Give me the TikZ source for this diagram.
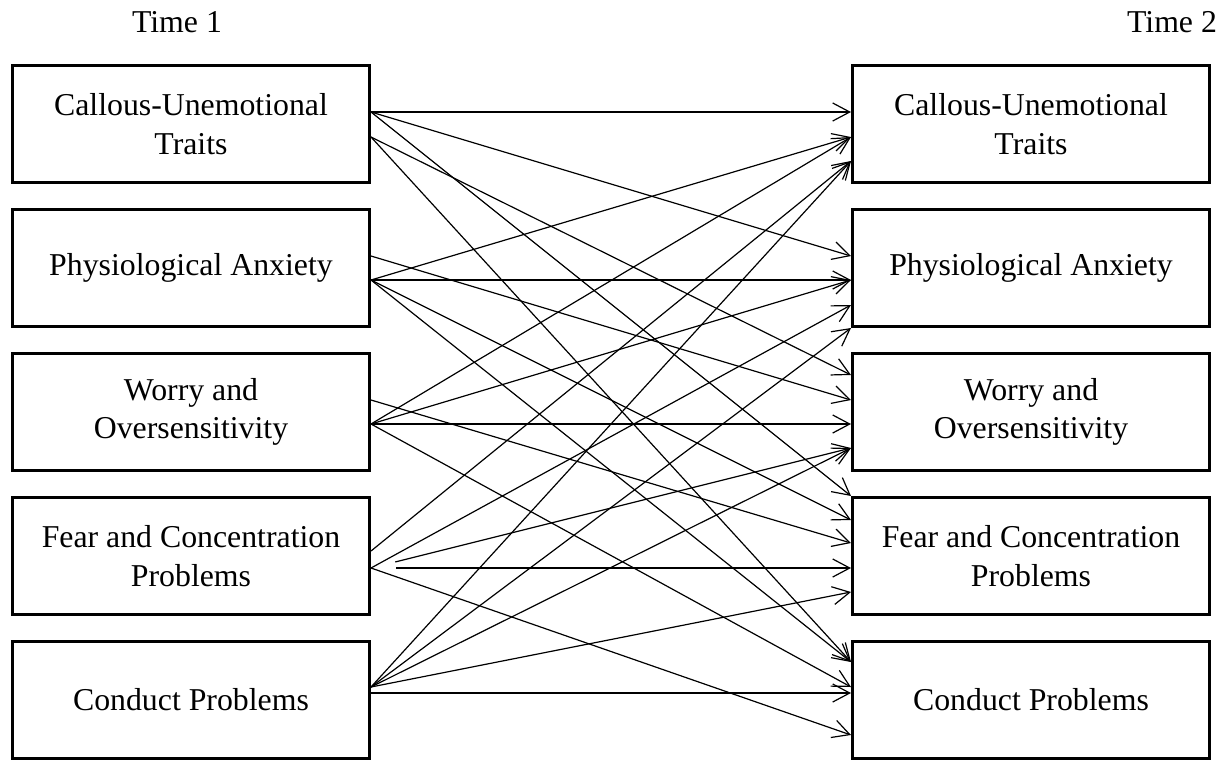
\documentclass[tikz,border=0pt]{standalone}
\usepackage{fontspec}
\setmainfont{Liberation Serif}
\usetikzlibrary{arrows.meta}
\tikzset{
  varblock/.style={draw, rectangle, line width=2.7pt, minimum width=357.3pt, minimum height=117.3pt, inner sep=0pt, align=center, font=\fontsize{31.8}{38.3}\selectfont},
  varwire/.style={line width=1.2pt, -{Straight Barb[length=17pt,width=18pt]}},
  timelabel/.style={anchor=base, font=\fontsize{31.8}{38.3}\selectfont}
}
\begin{document}
\begin{tikzpicture}[x=1pt,y=-1pt]
    \useasboundingbox (0,0) rectangle (1222,761);
    \node[timelabel] (time1) at (177,32) {Time 1};
    \node[timelabel] (time2) at (1172,32) {Time 2};

    \node[varblock] (acu) at (191,124) {Callous-Unemotional\\Traits};
    \node[varblock] (apa) at (191,268) {Physiological Anxiety};
    \node[varblock] (awo) at (191,412) {Worry and\\Oversensitivity};
    \node[varblock] (afc) at (191,556) {Fear and Concentration\\Problems};
    \node[varblock] (acp) at (191,700) {Conduct Problems};

    \node[varblock] (bcu) at (1031,124) {Callous-Unemotional\\Traits};
    \node[varblock] (bpa) at (1031,268) {Physiological Anxiety};
    \node[varblock] (bwo) at (1031,412) {Worry and\\Oversensitivity};
    \node[varblock] (bfc) at (1031,556) {Fear and Concentration\\Problems};
    \node[varblock] (bcp) at (1031,700) {Conduct Problems};

    % from callous-unemotional traits
    \draw[varwire] ([yshift=12pt]acu.east) -- ([yshift=12pt]bcu.west);
    \draw[varwire] ([yshift=12pt]acu.east) -- ([yshift=12pt]bpa.west);
    \draw[varwire] ([yshift=12pt]acu.east) -- ([yshift=60pt]bfc.west);
    \draw[varwire] ([yshift=-13pt]acu.east) -- ([yshift=37pt]bwo.west);
    \draw[varwire] ([yshift=-13pt]acu.east) -- ([yshift=38pt]bcp.west);
    % from physiological anxiety
    \draw[varwire] ([yshift=12pt]apa.east) -- ([yshift=12pt]bwo.west);
    \draw[varwire] ([yshift=-12pt]apa.east) -- ([yshift=-12pt]bpa.west);
    \draw[varwire] ([yshift=-12pt]apa.east) -- ([yshift=-13pt]bcu.west);
    \draw[varwire] ([yshift=-12pt]apa.east) -- ([yshift=36pt]bfc.west);
    \draw[varwire] ([yshift=-12pt]apa.east) -- ([yshift=38pt]bcp.west);
    % from worry and oversensitivity
    \draw[varwire] ([yshift=12pt]awo.east) -- ([yshift=13pt]bfc.west);
    \draw[varwire] ([yshift=-12pt]awo.east) -- ([yshift=-12pt]bwo.west);
    \draw[varwire] ([yshift=-12pt]awo.east) -- ([yshift=-13pt]bcu.west);
    \draw[varwire] ([yshift=-12pt]awo.east) -- ([yshift=-12pt]bpa.west);
    \draw[varwire] ([yshift=-12pt]awo.east) -- ([yshift=13pt]bcp.west);
    % from fear and concentration problems
    \draw[varwire] ([yshift=5pt]afc.east) -- ([yshift=-37pt]bcu.west);
    \draw[varwire] ([yshift=-12pt]afc.east) -- ([yshift=-37pt]bpa.west);
    \draw[varwire, shorten <=25pt] ([yshift=-12pt]afc.east) -- ([yshift=-36pt]bwo.west);
    \draw[varwire, shorten <=25pt] ([yshift=-12pt]afc.east) -- ([yshift=-12pt]bfc.west);
    \draw[varwire] ([yshift=-12pt]afc.east) -- ([yshift=-35pt]bcp.west);
    % from conduct problems
    \draw[varwire] ([yshift=13pt]acp.east) -- ([yshift=-37pt]bcu.west);
    \draw[varwire] ([yshift=13pt]acp.east) -- ([yshift=-60pt]bpa.west);
    \draw[varwire] ([yshift=13pt]acp.east) -- ([yshift=-36pt]bwo.west);
    \draw[varwire] ([yshift=13pt]acp.east) -- ([yshift=-36pt]bfc.west);
    \draw[varwire] ([yshift=7pt]acp.east) -- ([yshift=7pt]bcp.west);
\end{tikzpicture}
\end{document}
